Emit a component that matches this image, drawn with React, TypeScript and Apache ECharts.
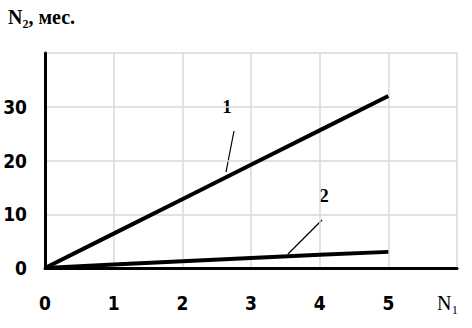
import React, { useEffect, useRef } from "react";
import * as echarts from "echarts";

const xValues = [0, 1, 2, 3, 4, 5];
const series1 = [0, 6.4, 12.8, 19.2, 25.6, 32];
const series2 = [0, 0.65, 1.25, 1.85, 2.45, 3.0];
const yTickLabels = ["0", "10", "20", "30"];
const xTickLabels = ["0", "1", "2", "3", "4", "5"];
const yTitle = "N₂, мес.";
const xTitle = "N₁";
const seriesNames = ["1", "2"];

export default function App() {
  const ref = useRef<HTMLDivElement>(null);
  useEffect(() => {
    if (!ref.current) return;
    const chart = echarts.init(ref.current, undefined, { renderer: "svg" });
    const tickFont = {
      fontFamily: "'Liberation Sans Narrow', 'DejaVu Sans Condensed', sans-serif",
      fontWeight: "bold" as const,
      fontSize: 19,
      color: "#000",
    };
    chart.setOption({
      animation: false,
      backgroundColor: "#fff",
      grid: { left: 45, right: 15, top: 53, bottom: 60, containLabel: false },
      xAxis: {
        type: "value",
        min: 0,
        max: 6,
        interval: 1,
        axisLine: { show: true, onZero: false, lineStyle: { color: "#000", width: 3 } },
        axisTick: { show: false },
        splitLine: { show: true, lineStyle: { color: "#d9d9d9", width: 1.5 } },
        axisLabel: {
          ...tickFont,
          margin: 25,
          formatter: (v: number) => {
            const i = xValues.indexOf(v);
            return i >= 0 ? xTickLabels[i] : "";
          },
        },
      },
      yAxis: {
        type: "value",
        min: 0,
        max: 40,
        interval: 10,
        axisLine: { show: true, lineStyle: { color: "#000", width: 3 } },
        axisTick: { show: false },
        splitLine: { show: true, lineStyle: { color: "#d9d9d9", width: 1.5 } },
        axisLabel: {
          ...tickFont,
          margin: 18,
          formatter: (v: number) => {
            const i = v / 10;
            return i < yTickLabels.length ? yTickLabels[i] : "";
          },
        },
      },
      series: [
        {
          name: seriesNames[0],
          type: "line",
          data: xValues.map((x, i) => [x, series1[i]]),
          symbol: "none",
          lineStyle: { color: "#000", width: 4 },
        },
        {
          name: seriesNames[1],
          type: "line",
          data: xValues.map((x, i) => [x, series2[i]]),
          symbol: "none",
          lineStyle: { color: "#000", width: 4 },
        },
      ],
      graphic: [
        {
          type: "text",
          left: 8,
          top: 7,
          style: { text: yTitle, font: "bold 20px 'Liberation Serif'", fill: "#000" },
        },
        {
          type: "text",
          x: 437,
          y: 293,
          style: { text: xTitle, font: "20px 'Liberation Serif'", fill: "#000" },
        },
        {
          type: "text",
          x: 227,
          y: 106,
          style: { text: seriesNames[0], font: "bold 19px 'Liberation Serif'", fill: "#000", align: "center", verticalAlign: "middle" },
        },
        {
          type: "text",
          x: 324,
          y: 195,
          style: { text: seriesNames[1], font: "bold 19px 'Liberation Serif'", fill: "#000", align: "center", verticalAlign: "middle" },
        },
        {
          type: "line",
          shape: { x1: 234, y1: 131, x2: 226, y2: 172 },
          style: { stroke: "#000", lineWidth: 1.2 },
        },
        {
          type: "line",
          shape: { x1: 322, y1: 220, x2: 288, y2: 254 },
          style: { stroke: "#000", lineWidth: 1.2 },
        },
      ],
    });
    return () => chart.dispose();
  }, []);
  return (
    <div
      ref={ref}
      style={{ position: "fixed", left: 0, top: 0, width: 472, height: 328 }}
    />
  );
}
